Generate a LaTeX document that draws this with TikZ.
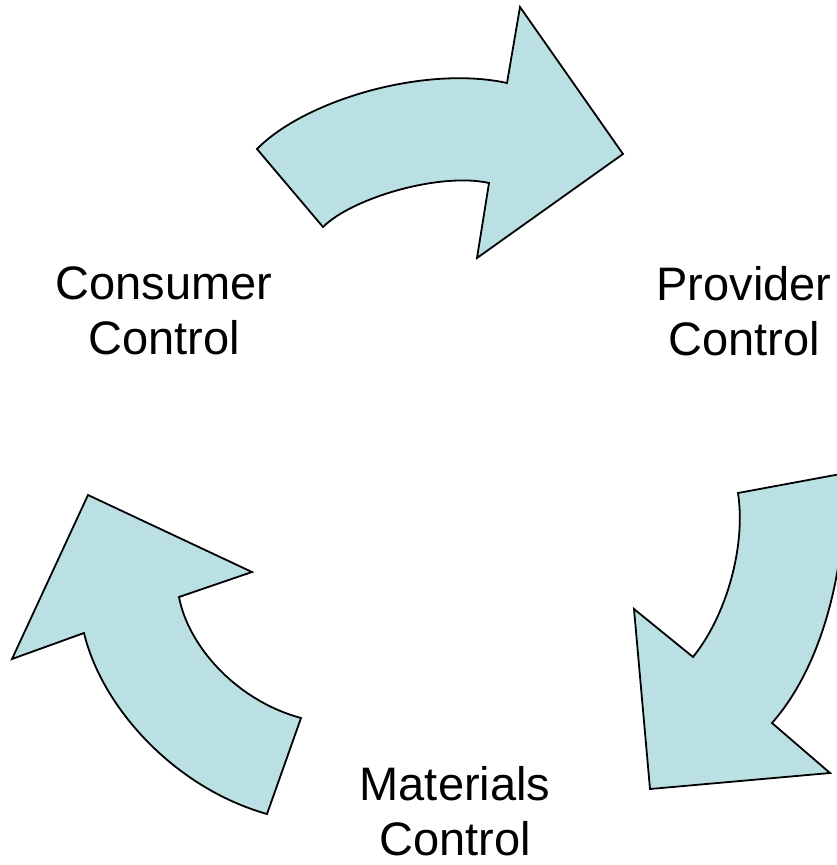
\documentclass[tikz,border=0pt]{standalone}
\usepackage{fontspec}
\setmainfont{Liberation Sans}
\definecolor{arrowfill}{RGB}{187,224,227}
\begin{document}
\begin{tikzpicture}[x=1pt,y=-1pt,
  cyclearrow/.style={fill=arrowfill,draw=black,line width=1.8pt,line join=miter},
  label/.style={align=center,font=\fontsize{47}{55}\selectfont,inner sep=0pt}]
\useasboundingbox (0,0) rectangle (836,865);
% top arrow
\draw[cyclearrow] (257,149) -- (323,227)
  .. controls (352,198) and (440,172) .. (489,183)
  -- (477,258) -- (623,154) -- (520,7) -- (507,83)
  .. controls (425,65) and (305,100) .. (257,149)
  -- cycle;
% right arrow
\draw[cyclearrow] (738,493) -- (846,473)
  .. controls (845,600) and (810,680) .. (772,723)
  -- (830,773) -- (650,789) -- (634,609) -- (693,657)
  .. controls (727,615) and (746,545) .. (738,493)
  -- cycle;
% left arrow
\draw[cyclearrow] (88,495) -- (252,572) -- (179,597)
  .. controls (188,645) and (235,700) .. (301,718)
  -- (267,814)
  .. controls (175,788) and (102,708) .. (84,633)
  -- (12,659) -- cycle;
% labels
\node[label] (consumer) at (164,311) {Consumer\\Control};
\node[label] (provider) at (744,311) {Provider\\Control};
\node[label] (materials) at (455,811) {Materials\\Control};
\end{tikzpicture}
\end{document}
